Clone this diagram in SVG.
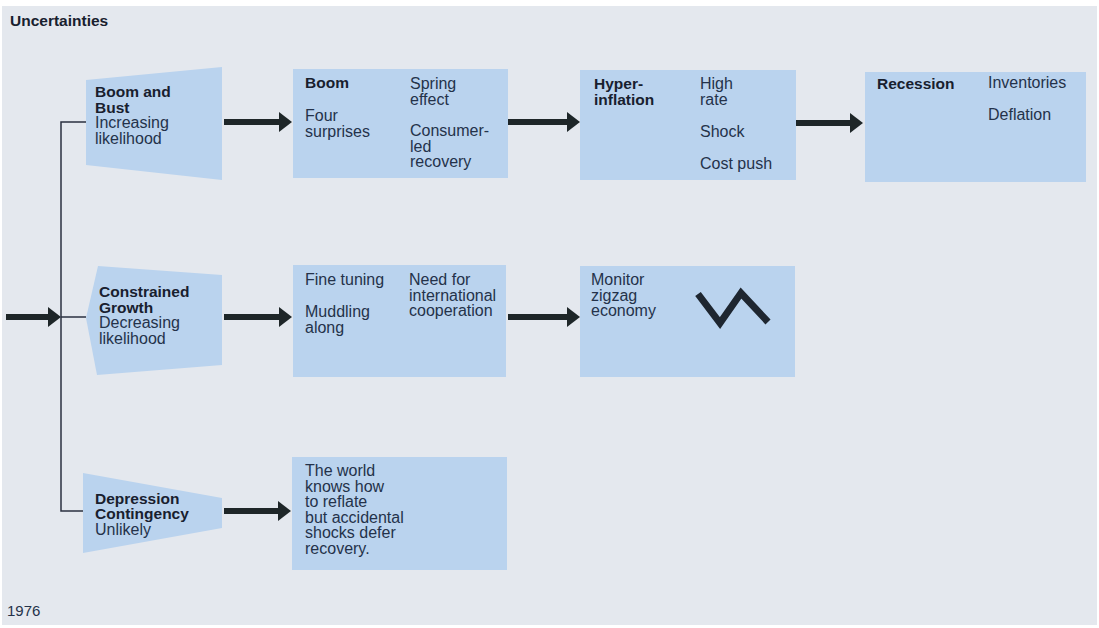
<svg xmlns="http://www.w3.org/2000/svg" width="1099" height="628" viewBox="0 0 1099 628">
  <style>
    .panel { fill: #bad3ee; }
    .b { font-family: "Liberation Sans", Arial, sans-serif; font-weight: bold; font-size: 15.5px; fill: #18202e; }
    .r { font-family: "Liberation Sans", Arial, sans-serif; font-size: 16px; fill: #24324a; }
    .arrow { stroke: #1e2628; stroke-width: 6; fill: none; marker-end: url(#head); }
    .link { stroke: #2a3040; stroke-width: 1.5; fill: none; }
  </style>
  <defs>
    <marker id="head" markerUnits="userSpaceOnUse" markerWidth="14" markerHeight="20" refX="3" refY="10" orient="auto">
      <path d="M0,0 L13,10 L0,20 Z" fill="#1e2628"/>
    </marker>
  </defs>

  <!-- page -->
  <rect x="0" y="0" width="1099" height="628" fill="#ffffff"/>
  <rect x="2" y="6" width="1095" height="619" fill="#e4e8ee"/>

  <text class="b" x="10" y="26">Uncertainties</text>
  <text class="r" x="7" y="616" style="font-size:15px">1976</text>

  <!-- connectors -->
  <g id="connectors">
    <line class="arrow" x1="6" y1="317" x2="51" y2="317"/>
    <polyline class="link" points="86,122 61,122 61,511 83,511"/>
    <line class="link" x1="61" y1="317" x2="86" y2="317"/>
    <line class="arrow" x1="224" y1="122" x2="282" y2="122"/>
    <line class="arrow" x1="508" y1="122" x2="570" y2="122"/>
    <line class="arrow" x1="796" y1="123" x2="853" y2="123"/>
    <line class="arrow" x1="224" y1="317" x2="282" y2="317"/>
    <line class="arrow" x1="508" y1="317" x2="570" y2="317"/>
    <line class="arrow" x1="224" y1="511" x2="281" y2="511"/>
  </g>

  <!-- scenario: Boom and Bust -->
  <g id="boom-and-bust">
    <polygon class="panel" points="86,80 222,67 222,180 86,165"/>
    <text class="b" x="95" y="97">Boom and</text>
    <text class="b" x="95" y="112.5">Bust</text>
    <text class="r" x="95" y="128">Increasing</text>
    <text class="r" x="95" y="143.5">likelihood</text>
  </g>

  <g id="boom">
    <rect class="panel" x="293" y="69" width="215" height="109"/>
    <text class="b" x="305" y="88">Boom</text>
    <text class="r" x="305" y="121">Four</text>
    <text class="r" x="305" y="136.5">surprises</text>
    <text class="r" x="410" y="89">Spring</text>
    <text class="r" x="410" y="104.5">effect</text>
    <text class="r" x="410" y="136">Consumer-</text>
    <text class="r" x="410" y="151.5">led</text>
    <text class="r" x="410" y="167">recovery</text>
  </g>

  <g id="hyperinflation">
    <rect class="panel" x="580" y="70" width="216" height="110"/>
    <text class="b" x="594" y="89">Hyper-</text>
    <text class="b" x="594" y="104.5">inflation</text>
    <text class="r" x="700" y="89">High</text>
    <text class="r" x="700" y="104.5">rate</text>
    <text class="r" x="700" y="137">Shock</text>
    <text class="r" x="700" y="169">Cost push</text>
  </g>

  <g id="recession">
    <rect class="panel" x="865" y="72" width="221" height="110"/>
    <text class="b" x="877" y="89">Recession</text>
    <text class="r" x="988" y="88">Inventories</text>
    <text class="r" x="988" y="119.5">Deflation</text>
  </g>

  <!-- scenario: Constrained Growth -->
  <g id="constrained-growth">
    <polygon class="panel" points="98,266 222,275 222,365 97,375 86,318"/>
    <text class="b" x="99" y="297">Constrained</text>
    <text class="b" x="99" y="312.5">Growth</text>
    <text class="r" x="99" y="328">Decreasing</text>
    <text class="r" x="99" y="343.5">likelihood</text>
  </g>

  <g id="fine-tuning">
    <rect class="panel" x="293" y="265" width="213" height="112"/>
    <text class="r" x="305" y="285">Fine tuning</text>
    <text class="r" x="305" y="317">Muddling</text>
    <text class="r" x="305" y="332.5">along</text>
    <text class="r" x="409" y="285">Need for</text>
    <text class="r" x="409" y="300.5">international</text>
    <text class="r" x="409" y="316">cooperation</text>
  </g>

  <g id="zigzag-economy">
    <rect class="panel" x="580" y="266" width="215" height="111"/>
    <text class="r" x="591" y="285">Monitor</text>
    <text class="r" x="591" y="300.5">zigzag</text>
    <text class="r" x="591" y="316">economy</text>
    <polyline points="698,294 720,323 741,293 768,322" fill="none" stroke="#1e2630" stroke-width="7"/>
  </g>

  <!-- scenario: Depression Contingency -->
  <g id="depression-contingency">
    <polygon class="panel" points="83,473 222,498 222,528 83,553"/>
    <text class="b" x="95" y="503.5">Depression</text>
    <text class="b" x="95" y="519">Contingency</text>
    <text class="r" x="95" y="534.5">Unlikely</text>
  </g>

  <g id="reflation">
    <rect class="panel" x="292" y="457" width="215" height="113"/>
    <text class="r" x="305" y="476">The world</text>
    <text class="r" x="305" y="491.5">knows how</text>
    <text class="r" x="305" y="507">to reflate</text>
    <text class="r" x="305" y="522.5">but accidental</text>
    <text class="r" x="305" y="538">shocks defer</text>
    <text class="r" x="305" y="553.5">recovery.</text>
  </g>
</svg>
